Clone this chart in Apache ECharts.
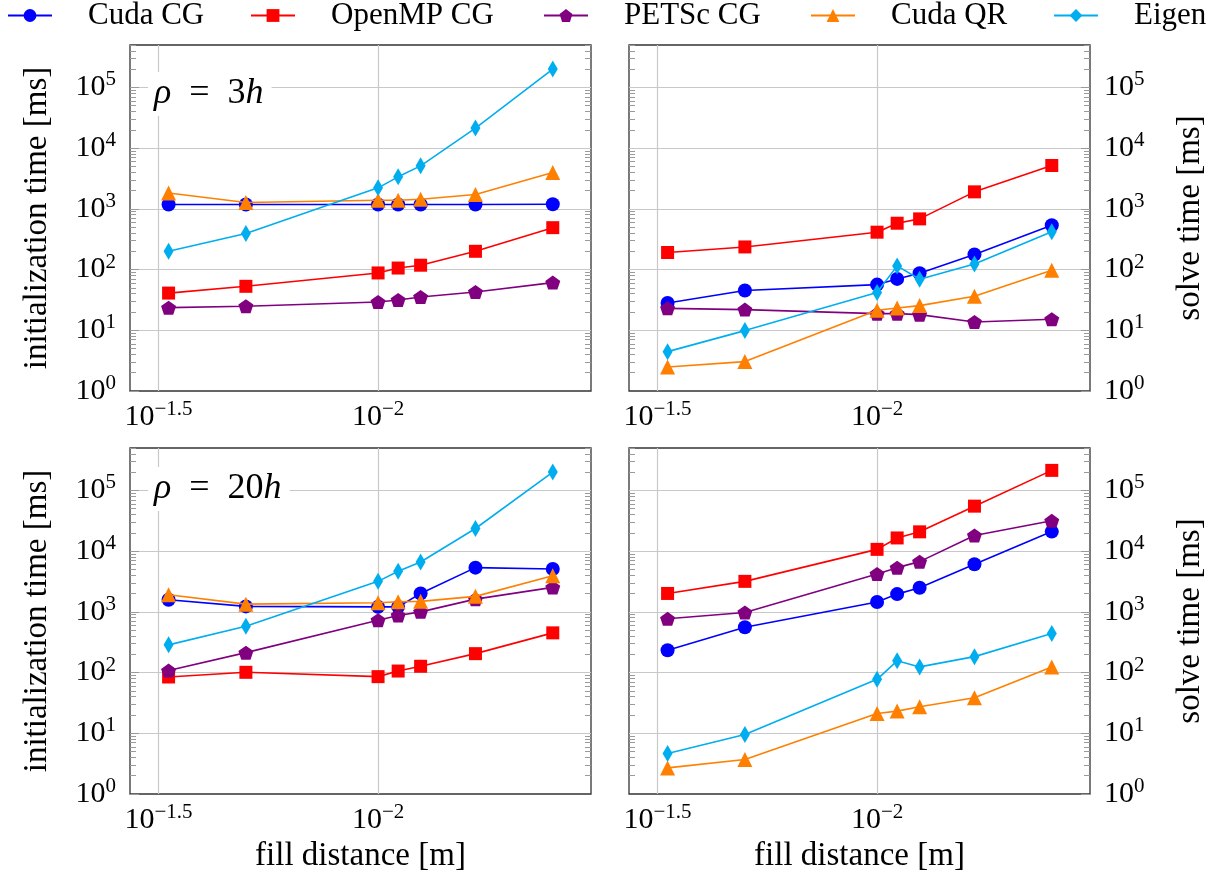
<!DOCTYPE html>
<html>
<head>
<meta charset="utf-8">
<script src="https://cdn.jsdelivr.net/npm/echarts@6/dist/echarts.min.js"></script>
<style>
  html, body { margin: 0; padding: 0; background: #fff; }
  #chart { width: 1223px; height: 879px; }
</style>
</head>
<body>
<div id="chart"></div>
<script>
// fill distance [m] (x axis, shared by all panels)
const fillDistance = [0.03, 0.02, 0.01, 0.009, 0.008, 0.006, 0.004]

// rho = 3h, initialization time [ms]
const cudaCGInit3 = [1180, 1180, 1180, 1180, 1180, 1180, 1190]
const openmpCGInit3 = [41, 53, 88, 106, 118, 200, 490]
const petscCGInit3 = [23.6, 24.9, 29.3, 31.6, 35.4, 42.8, 61]
const cudaQRInit3 = [1830, 1270, 1390, 1390, 1440, 1720, 3970]
const eigenInit3 = [200, 392, 2220, 3370, 5110, 21400, 200500]

// rho = 3h, solve time [ms]
const cudaCGSolve3 = [28.2, 45.1, 56.6, 70.2, 87, 177, 538]
const openmpCGSolve3 = [191, 236, 413, 580, 684, 1906, 5180]
const petscCGSolve3 = [23.0, 21.9, 18.8, 18.8, 18.1, 13.7, 15.2]
const cudaQRSolve3 = [2.49, 3.05, 21.4, 23.3, 25.5, 36.3, 97.5]
const eigenSolve3 = [4.45, 9.88, 41.8, 115, 69.3, 124, 418]

// rho = 20h, initialization time [ms]
const cudaCGInit20 = [1580, 1230, 1210, 1210, 2010, 5350, 5080]
const openmpCGInit20 = [84.6, 101, 85.7, 106, 127, 205, 451]
const petscCGInit20 = [108, 213, 730, 873, 1000, 1620, 2530]
const cudaQRInit20 = [1910, 1340, 1410, 1470, 1490, 1800, 3940]
const eigenInit20 = [286, 581, 3180, 4650, 6630, 23600, 201000]

// rho = 20h, solve time [ms]
const cudaCGSolve20 = [233, 559, 1450, 1960, 2500, 6070, 21000]
const openmpCGSolve20 = [2010, 3180, 10700, 16500, 20800, 55100, 214000]
const petscCGSolve20 = [768, 977, 4200, 5350, 6720, 18100, 31600]
const cudaQRSolve20 = [2.69, 3.69, 21.2, 23.2, 27.4, 38.5, 124]
const eigenSolve20 = [4.64, 9.55, 77.4, 156, 124, 183, 440]

const seriesNames = ['Cuda CG', 'OpenMP CG', 'PETSc CG', 'Cuda QR', 'Eigen']
const panelLabels = ['3', '20']

const FONT = '"Liberation Serif", "DejaVu Serif", serif'
const colors = ['#0000ff', '#ff0000', '#800080', '#ff8000', '#00aeef']
const pentagon = 'path://M0,-1L0.951,-0.309L0.588,0.809L-0.588,0.809L-0.951,-0.309Z'
const diamond = 'path://M0,-1L0.6,0L0,1L-0.6,0Z'
const symbols = ['circle', 'rect', pentagon, 'triangle', diamond]
const symbolSizes = [14, 13, [15, 14], 15, [10, 17]]

const Y_MIN = 1
const Y_MAX = 5e5
const X_MIN = Math.pow(10, -2.485)
const X_MAX = Math.pow(10, -1.435)

// minor ticks 2..9 x 10^k, placed on a helper axis in log10 units
const minorTicks = []
for (let k = 0; k <= 5; k++) {
  for (let m = 2; m <= 9; m++) {
    if (m * Math.pow(10, k) <= Y_MAX) minorTicks.push(Math.log10(m * Math.pow(10, k)))
  }
}

const panels = [
  { left: 130, top: 45, side: 'left', yName: 'initialization time [ms]', xName: '',
    values: [cudaCGInit3, openmpCGInit3, petscCGInit3, cudaQRInit3, eigenInit3] },
  { left: 629, top: 45, side: 'right', yName: 'solve time [ms]', xName: '',
    values: [cudaCGSolve3, openmpCGSolve3, petscCGSolve3, cudaQRSolve3, eigenSolve3] },
  { left: 130, top: 448, side: 'left', yName: 'initialization time [ms]', xName: 'fill distance [m]',
    values: [cudaCGInit20, openmpCGInit20, petscCGInit20, cudaQRInit20, eigenInit20] },
  { left: 629, top: 448, side: 'right', yName: 'solve time [ms]', xName: 'fill distance [m]',
    values: [cudaCGSolve20, openmpCGSolve20, petscCGSolve20, cudaQRSolve20, eigenSolve20] }
]

const powRich = {
  b: { fontFamily: FONT, fontSize: 30, lineHeight: 36, color: '#000' },
  e: { fontFamily: FONT, fontSize: 21, lineHeight: 28, verticalAlign: 'top', color: '#000' }
}

const grid = []
const xAxis = []
const yAxis = []
const series = []

panels.forEach((p, i) => {
  grid.push({
    left: p.left, top: p.top, width: 461, height: 346,
    show: true, borderColor: '#333', borderWidth: 1.3, backgroundColor: 'transparent'
  })

  xAxis.push({
    type: 'log', logBase: Math.sqrt(10), gridIndex: i, inverse: true,
    min: X_MIN, max: X_MAX,
    name: p.xName, nameLocation: 'middle', nameGap: 46,
    nameTextStyle: { fontFamily: FONT, fontSize: 33, color: '#000' },
    axisLine: { show: false },
    axisTick: { show: false },
    splitLine: { show: true, showMinLine: false, showMaxLine: false, lineStyle: { color: '#c8c8c8', width: 1.2 } },
    axisLabel: {
      margin: 8, showMinLabel: false, showMaxLabel: false,
      formatter: (v) => {
        const e = Math.round(Math.log10(v) * 10) / 10
        return '{b|10}{e|' + String(e).replace('-', '\u2212') + '}'
      },
      rich: powRich
    }
  })

  // main axis: labels, major grid
  yAxis.push({
    type: 'log', gridIndex: i, position: p.side, min: Y_MIN, max: Y_MAX, splitNumber: 6,
    name: p.yName, nameLocation: 'middle', nameRotate: 90,
    nameGap: p.side === 'left' ? 76 : 84,
    nameTextStyle: { fontFamily: FONT, fontSize: 33, color: '#000' },
    axisLine: { show: false },
    axisTick: { show: true, inside: true, length: 9, lineStyle: { color: '#9a9a9a' } },
    splitLine: { show: true, showMinLine: false, showMaxLine: false, lineStyle: { color: '#c8c8c8', width: 1.2 } },
    axisLabel: {
      margin: 14, showMaxLabel: false,
      formatter: (v) => {
        const e = Math.log10(v)
        if (Math.abs(e - Math.round(e)) > 1e-6) return ''
        return '{b|10}{e|' + Math.round(e) + '}'
      },
      rich: powRich
    }
  })

  // minor ticks on both frame sides
  ;['left', 'right'].forEach((side) => {
    yAxis.push({
      type: 'value', gridIndex: i, position: side, min: 0, max: Math.log10(Y_MAX),
      axisLine: { show: false },
      axisLabel: { show: false },
      splitLine: { show: false },
      axisTick: { show: true, inside: true, length: 6, customValues: minorTicks, lineStyle: { color: '#9a9a9a' } }
    })
  })

  seriesNames.forEach((name, s) => {
    series.push({
      name: name, type: 'line', xAxisIndex: i, yAxisIndex: i * 3,
      data: fillDistance.map((x, k) => [x, p.values[s][k]]),
      symbol: symbols[s], symbolSize: symbolSizes[s], showAllSymbol: true,
      color: colors[s],
      lineStyle: { width: 1.6, color: colors[s] },
      itemStyle: { color: colors[s] },
      z: 3 + s
    })
  })
})

// one legend block per entry so each sits where the original has it
const legendLefts = [7, 250, 543, 810, 1053]
const legend = seriesNames.map((name, s) => ({
  data: [name], left: legendLefts[s], top: 0, padding: 0,
  itemWidth: 44, itemHeight: 16, selectedMode: false,
  textStyle: { fontFamily: FONT, fontSize: 31, color: '#000', padding: [0, 0, 0, 31] }
}))

const title = panelLabels.map((lab, i) => ({
  text: '{i|\u03c1}\u2002=\u2002' + lab + '{i|h}',
  left: 148, top: i === 0 ? 72 : 467,
  backgroundColor: '#fff', padding: [3, 8, 3, 6],
  textStyle: {
    fontFamily: FONT, fontSize: 36, fontWeight: 'normal', color: '#000', lineHeight: 38,
    rich: { i: { fontFamily: FONT, fontSize: 36, fontStyle: 'italic', color: '#000', lineHeight: 38 } }
  }
}))

const myChart = echarts.init(document.getElementById('chart'), null, { renderer: 'canvas' })
myChart.setOption({
  animation: false,
  backgroundColor: '#fff',
  title: title,
  legend: legend,
  grid: grid,
  xAxis: xAxis,
  yAxis: yAxis,
  series: series
})
</script>
</body>
</html>
